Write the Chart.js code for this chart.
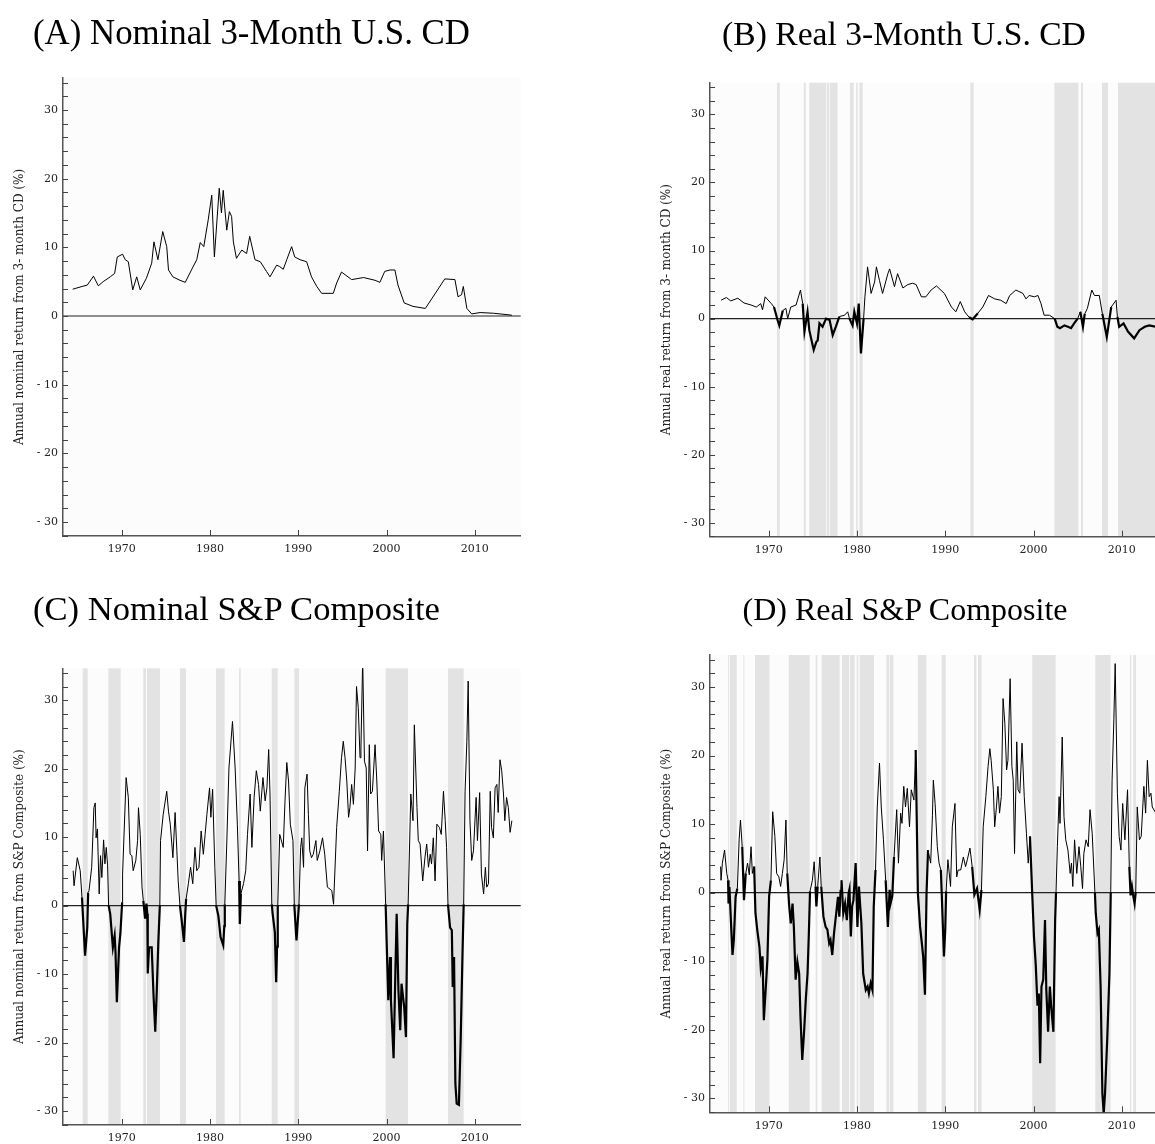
<!DOCTYPE html>
<html>
<head>
<meta charset="utf-8">
<script src="https://cdn.jsdelivr.net/npm/chart.js@4.4.0/dist/chart.umd.min.js"></script>
<style>
  html, body { margin: 0; padding: 0; background: #fff; overflow: hidden; }
  #page { position: relative; width: 1155px; height: 1144px; overflow: hidden; }
  canvas { position: absolute; }
  .title { position: absolute; font-family: "Liberation Serif", "Times New Roman", serif; color: #000; white-space: nowrap; z-index: 2; }
</style>
</head>
<body>
<div id="page">
  <div class="title" style="left:33px; top:16px; font-size:34.8px; line-height:34.8px;">(A) Nominal 3-Month U.S. CD</div>
  <div class="title" style="left:604px; top:17px; width:600px; text-align:center; font-size:33.6px; line-height:33.6px;">(B) Real 3-Month U.S. CD</div>
  <div class="title" style="left:33px; top:591px; font-size:34.6px; line-height:34.6px;">(C) Nominal S&amp;P Composite</div>
  <div class="title" style="left:605px; top:593px; width:600px; text-align:center; font-size:32px; line-height:32px;">(D) Real S&amp;P Composite</div>
  <canvas id="chartA" width="560" height="580" style="left:0px; top:0px;"></canvas>
  <canvas id="chartB" width="560" height="580" style="left:647px; top:0px;"></canvas>
  <canvas id="chartC" width="560" height="580" style="left:0px; top:580px;"></canvas>
  <canvas id="chartD" width="560" height="580" style="left:647px; top:580px;"></canvas>
</div>
<script>
// tick labels
const xTickYears = [1970, 1980, 1990, 2000, 2010];
const yTickValues = [-30, -20, -10, 0, 10, 20, 30];

// (A) nominal 3-month CD
const nomCdYears = [1964.45, 1965.5, 1966.1, 1966.8, 1967.35, 1967.9, 1968.7, 1969.2, 1969.5, 1970.1, 1970.4, 1970.75, 1971.25, 1971.7, 1972.1, 1972.8, 1973.4, 1973.65, 1974.1, 1974.65, 1975.1, 1975.3, 1975.8, 1976.6, 1977.2, 1977.9, 1978.5, 1978.9, 1979.3, 1979.8, 1980.2, 1980.5, 1981.05, 1981.3, 1981.5, 1981.9, 1982.2, 1982.45, 1982.65, 1983.0, 1983.6, 1984.15, 1984.5, 1985.1, 1985.7, 1986.4, 1986.8, 1987.55, 1987.9, 1988.3, 1988.7, 1989.25, 1989.6, 1990.2, 1990.95, 1991.5, 1992.1, 1992.65, 1993.97, 1994.35, 1994.9, 1996.05, 1997.4, 1998.7, 1999.25, 1999.8, 2000.4, 2000.95, 2001.3, 2002.0, 2003.0, 2004.4, 2006.6, 2007.75, 2008.1, 2008.5, 2008.7, 2009.1, 2009.65, 2010.6, 2012.1, 2014.0, 2014.2];
const nomCdValues = [3.9, 4.3, 4.5, 5.8, 4.4, 5.0, 5.7, 6.2, 8.6, 9.0, 8.2, 7.9, 3.8, 5.7, 3.8, 5.5, 7.7, 10.8, 8.2, 12.3, 10.1, 6.7, 5.7, 5.2, 4.9, 6.7, 8.2, 10.7, 10.1, 14.0, 17.6, 8.6, 18.6, 15.0, 18.3, 12.5, 15.2, 14.5, 10.8, 8.4, 9.6, 9.1, 11.6, 8.2, 7.9, 6.5, 5.7, 7.4, 7.2, 6.8, 8.2, 10.1, 8.6, 8.2, 7.9, 5.7, 4.3, 3.3, 3.3, 4.8, 6.4, 5.3, 5.6, 5.2, 4.9, 6.5, 6.7, 6.7, 4.5, 1.9, 1.4, 1.1, 5.4, 5.3, 2.8, 3.1, 4.3, 1.1, 0.3, 0.5, 0.4, 0.15, 0.1];

// (B) real 3-month CD
const realCdYears = [1964.6, 1965.2, 1965.7, 1966.5, 1967.2, 1968.0, 1968.6, 1969.1, 1969.3, 1969.6, 1970.3, 1970.6, 1971.0, 1971.2, 1971.6, 1971.95, 1972.15, 1972.5, 1973.1, 1973.6, 1973.85, 1974.05, 1974.4, 1974.6, 1974.8, 1975.1, 1975.4, 1975.55, 1975.75, 1976.1, 1976.5, 1976.9, 1977.25, 1977.6, 1978.0, 1978.6, 1978.95, 1979.15, 1979.5, 1979.7, 1980.0, 1980.2, 1980.45, 1980.75, 1980.9, 1981.2, 1981.6, 1982.0, 1982.2, 1982.55, 1982.9, 1983.5, 1983.7, 1984.25, 1984.6, 1985.2, 1985.75, 1986.3, 1986.7, 1987.3, 1987.8, 1988.4, 1989.0, 1989.9, 1990.7, 1991.2, 1991.7, 1992.2, 1992.7, 1993.1, 1993.7, 1994.25, 1994.9, 1995.6, 1996.3, 1996.9, 1997.3, 1998.0, 1998.8, 1999.15, 1999.5, 2000.1, 2000.5, 2000.85, 2001.2, 2001.8, 2002.4, 2002.7, 2003.0, 2003.5, 2003.9, 2004.25, 2004.6, 2005.0, 2005.3, 2005.6, 2005.8, 2006.1, 2006.6, 2006.9, 2007.45, 2007.8, 2008.3, 2008.8, 2009.35, 2009.5, 2009.7, 2010.2, 2010.7, 2011.4, 2012.0, 2012.6, 2013.1, 2013.9, 2014.2];
const realCdValues = [2.7, 3.1, 2.6, 3.0, 2.3, 2.0, 1.7, 2.2, 1.3, 3.2, 2.2, 1.7, -0.2, -1.0, 1.2, 1.5, 0.0, 1.7, 2.0, 4.2, 2.2, -1.9, 1.0, -1.7, -2.9, -4.6, -3.4, -3.2, -0.7, -1.2, 0.0, -0.2, -2.4, -1.2, 0.3, 0.5, 1.0, 0.0, -1.0, 1.0, -0.7, 2.2, -5.1, 0.0, 3.2, 7.6, 3.7, 5.4, 7.6, 5.6, 3.7, 6.6, 7.3, 4.7, 6.6, 4.5, 5.0, 5.2, 5.0, 3.2, 3.2, 4.2, 4.8, 3.7, 1.7, 1.0, 2.5, 1.0, 0.2, -0.1, 0.8, 1.7, 3.4, 2.9, 2.7, 2.2, 3.4, 4.2, 3.7, 2.9, 3.4, 3.2, 3.4, 2.2, 0.5, 0.5, 0.0, -1.2, -1.4, -1.0, -1.2, -1.4, -0.7, 0.0, 1.0, -1.2, 0.7, 1.5, 4.2, 3.4, 3.4, 0.7, -2.7, 1.7, 2.7, 0.3, -1.2, -0.7, -1.9, -2.9, -1.7, -1.2, -1.0, -1.2, -1.0];
const realCdBands = [[1970.94, 1971.25], [1973.97, 1974.2], [1974.6, 1976.5], [1976.58, 1976.85], [1976.93, 1977.8], [1979.2, 1979.63], [1979.9, 1980.08], [1980.27, 1980.65], [1992.85, 1993.22], [2002.36, 2005.08], [2005.38, 2005.6], [2007.76, 2008.44], [2009.57, 2014.2]];

// (C) nominal S&P composite
const nomSpYears = [1964.5, 1964.6, 1964.97, 1965.3, 1965.5, 1965.85, 1966.1, 1966.2, 1966.3, 1966.6, 1966.85, 1967.0, 1967.1, 1967.25, 1967.45, 1967.6, 1967.75, 1967.95, 1968.1, 1968.25, 1968.4, 1968.52, 1968.7, 1969.0, 1969.2, 1969.3, 1969.45, 1969.7, 1969.85, 1970.05, 1970.1, 1970.5, 1970.75, 1970.95, 1971.15, 1971.3, 1971.6, 1971.8, 1971.9, 1972.1, 1972.3, 1972.45, 1972.65, 1972.8, 1972.9, 1972.95, 1973.1, 1973.4, 1973.6, 1973.8, 1973.95, 1974.15, 1974.32, 1974.4, 1974.7, 1975.1, 1975.3, 1975.5, 1975.8, 1976.05, 1976.25, 1976.4, 1976.6, 1976.8, 1977.05, 1977.2, 1977.3, 1977.55, 1977.8, 1978.05, 1978.3, 1978.5, 1978.75, 1979.0, 1979.25, 1979.45, 1979.65, 1979.95, 1980.1, 1980.3, 1980.55, 1980.7, 1980.95, 1981.2, 1981.5, 1981.62, 1981.68, 1981.9, 1982.15, 1982.55, 1982.85, 1983.1, 1983.3, 1983.38, 1983.5, 1983.8, 1984.05, 1984.25, 1984.55, 1984.75, 1985.0, 1985.25, 1985.5, 1985.7, 1986.0, 1986.25, 1986.45, 1986.65, 1986.8, 1987.0, 1987.1, 1987.35, 1987.5, 1987.6, 1987.68, 1987.9, 1988.3, 1988.5, 1988.7, 1988.9, 1989.1, 1989.4, 1989.55, 1989.8, 1990.08, 1990.27, 1990.4, 1990.6, 1990.75, 1991.0, 1991.15, 1991.3, 1991.5, 1991.7, 1992.0, 1992.15, 1992.45, 1992.75, 1993.0, 1993.3, 1993.6, 1993.8, 1994.0, 1994.35, 1994.65, 1994.9, 1995.1, 1995.3, 1995.5, 1995.7, 1995.85, 1996.05, 1996.25, 1996.45, 1996.6, 1996.8, 1997.0, 1997.1, 1997.3, 1997.5, 1997.7, 1997.85, 1998.05, 1998.2, 1998.4, 1998.7, 1998.9, 1999.1, 1999.35, 1999.45, 1999.65, 1999.9, 2000.0, 2000.2, 2000.4, 2000.5, 2000.8, 2001.0, 2001.15, 2001.35, 2001.55, 2001.7, 2002.0, 2002.2, 2002.35, 2002.45, 2002.75, 2003.0, 2003.15, 2003.45, 2003.6, 2003.8, 2004.1, 2004.35, 2004.55, 2004.75, 2004.95, 2005.1, 2005.3, 2005.5, 2005.7, 2006.0, 2006.2, 2006.45, 2006.65, 2006.8, 2006.96, 2007.2, 2007.4, 2007.5, 2007.65, 2007.8, 2007.95, 2008.2, 2008.4, 2008.6, 2008.74, 2008.9, 2009.1, 2009.25, 2009.45, 2009.65, 2009.85, 2010.15, 2010.3, 2010.55, 2010.75, 2011.0, 2011.2, 2011.35, 2011.55, 2011.75, 2011.9, 2012.1, 2012.3, 2012.5, 2012.65, 2012.85, 2013.05, 2013.25, 2013.4, 2013.6, 2013.8, 2014.0, 2014.2];
const nomSpValues = [5.1, 2.9, 7.0, 5.1, 1.2, -7.3, -3.2, 1.9, 2.2, 5.6, 14.3, 15.0, 9.9, 11.2, 1.7, 7.3, 4.1, 9.6, 6.1, 8.5, 5.9, 0.0, -1.2, -6.1, -4.4, -6.8, -14.1, -6.1, -4.1, 0.5, 4.6, 18.7, 15.8, 7.5, 7.3, 5.1, 6.6, 9.5, 14.3, 10.4, 2.7, 0.7, -1.9, 0.3, -1.2, -9.9, -6.1, -6.1, -12.9, -18.4, -13.3, -5.3, 0.0, 9.5, 13.3, 16.7, 13.8, 11.9, 7.0, 13.6, 8.0, 3.6, 0.0, -2.2, -5.3, -1.2, 1.0, 3.2, 5.6, 3.2, 8.5, 5.1, 5.6, 10.9, 7.5, 10.4, 13.3, 17.2, 12.9, 17.0, 5.6, 0.0, -1.5, -4.6, -5.8, -3.0, 0.2, 9.0, 20.1, 26.9, 20.1, 11.9, 3.6, -2.7, 1.7, 3.2, 5.1, 10.4, 16.3, 8.5, 15.8, 19.7, 17.7, 13.8, 18.7, 15.3, 17.2, 22.8, 16.3, 0.2, -1.2, -3.9, -11.2, -6.0, 0.0, 10.4, 8.5, 15.3, 20.9, 18.2, 11.9, 9.5, 0.2, -5.1, 0.2, 8.5, 9.9, 5.6, 17.2, 19.2, 13.3, 8.0, 7.0, 7.5, 9.5, 6.6, 8.0, 9.9, 7.5, 2.7, 2.4, 2.2, 0.2, 11.4, 16.7, 21.6, 24.0, 21.6, 18.2, 12.9, 14.3, 17.7, 14.8, 20.1, 32.0, 28.9, 21.6, 23.0, 36.0, 21.1, 20.1, 8.0, 23.5, 16.3, 16.7, 23.5, 18.2, 10.9, 10.4, 6.6, 10.9, 0.2, -4.6, -13.8, -7.5, -13.8, -22.3, -9.9, -1.2, -12.4, -18.2, -11.4, -14.8, -19.2, -2.7, 0.2, 16.3, 12.4, 26.4, 14.3, 9.5, 9.0, 3.6, 7.0, 9.0, 5.6, 7.5, 6.1, 9.9, 3.6, 11.9, 11.4, 10.4, 16.7, 12.4, 8.5, 0.2, -3.2, -3.6, -11.9, -7.5, -26.0, -28.9, -29.1, -19.6, -7.5, 0.2, 16.7, 24.0, 32.8, 12.4, 6.6, 8.0, 15.8, 9.5, 16.5, 4.6, 1.7, 5.6, 2.7, 3.2, 16.7, 11.4, 9.9, 17.2, 17.7, 13.6, 21.3, 19.7, 16.3, 12.4, 15.8, 14.3, 10.7, 12.4];
const nomSpBands = [[1965.58, 1966.15], [1968.49, 1969.88], [1972.45, 1972.75], [1972.87, 1974.34], [1976.6, 1977.28], [1980.68, 1981.66], [1983.29, 1983.48], [1987.0, 1987.67], [1989.56, 1990.09], [1999.9, 2002.43], [2006.96, 2008.74]];

// (D) real S&P composite
const realSpYears = [1964.55, 1964.6, 1964.75, 1965.0, 1965.25, 1965.4, 1965.45, 1965.55, 1965.75, 1965.9, 1966.05, 1966.25, 1966.45, 1966.65, 1966.8, 1967.0, 1967.2, 1967.4, 1967.6, 1967.8, 1968.0, 1968.15, 1968.35, 1968.5, 1968.7, 1968.95, 1969.1, 1969.3, 1969.45, 1969.7, 1969.85, 1970.05, 1970.25, 1970.45, 1970.7, 1970.9, 1971.15, 1971.35, 1971.55, 1971.75, 1971.95, 1972.1, 1972.3, 1972.5, 1972.7, 1972.85, 1973.05, 1973.25, 1973.45, 1973.6, 1973.8, 1974.0, 1974.2, 1974.4, 1974.55, 1974.68, 1974.95, 1975.15, 1975.3, 1975.4, 1975.55, 1975.8, 1975.95, 1976.2, 1976.45, 1976.65, 1976.85, 1977.0, 1977.2, 1977.4, 1977.65, 1977.85, 1978.0, 1978.15, 1978.25, 1978.45, 1978.65, 1978.85, 1979.05, 1979.15, 1979.3, 1979.45, 1979.6, 1979.85, 1980.05, 1980.22, 1980.5, 1980.7, 1981.0, 1981.2, 1981.35, 1981.55, 1981.75, 1981.9, 1982.1, 1982.3, 1982.55, 1982.75, 1983.0, 1983.25, 1983.5, 1983.7, 1983.8, 1984.0, 1984.2, 1984.5, 1984.7, 1984.95, 1985.1, 1985.3, 1985.5, 1985.7, 1985.95, 1986.15, 1986.45, 1986.65, 1986.9, 1987.15, 1987.35, 1987.5, 1987.7, 1987.88, 1988.05, 1988.35, 1988.55, 1988.65, 1988.85, 1989.1, 1989.3, 1989.5, 1989.6, 1989.85, 1990.0, 1990.1, 1990.3, 1990.6, 1990.8, 1991.1, 1991.3, 1991.45, 1991.75, 1992.05, 1992.3, 1992.5, 1992.8, 1993.05, 1993.3, 1993.6, 1993.9, 1994.1, 1994.3, 1994.6, 1994.85, 1995.05, 1995.2, 1995.45, 1995.6, 1995.8, 1995.97, 1996.15, 1996.35, 1996.55, 1996.75, 1996.95, 1997.1, 1997.35, 1997.55, 1997.7, 1997.85, 1998.1, 1998.25, 1998.45, 1998.7, 1998.95, 1999.2, 1999.4, 1999.6, 1999.85, 2000.05, 2000.25, 2000.45, 2000.6, 2000.75, 2000.9, 2001.1, 2001.3, 2001.45, 2001.65, 2001.85, 2002.0, 2002.25, 2002.45, 2002.55, 2002.7, 2002.9, 2003.0, 2003.25, 2003.45, 2003.65, 2003.9, 2004.15, 2004.3, 2004.45, 2004.65, 2004.9, 2005.15, 2005.35, 2005.55, 2005.7, 2005.95, 2006.2, 2006.4, 2006.65, 2006.95, 2007.05, 2007.25, 2007.4, 2007.6, 2007.8, 2007.95, 2008.1, 2008.35, 2008.6, 2008.75, 2008.9, 2009.1, 2009.25, 2009.5, 2009.7, 2009.9, 2010.1, 2010.35, 2010.65, 2010.85, 2011.0, 2011.15, 2011.3, 2011.45, 2011.58, 2011.75, 2012.0, 2012.2, 2012.5, 2012.7, 2012.9, 2013.1, 2013.3, 2013.45, 2013.85, 2014.1];
const realSpValues = [3.8, 1.8, 4.3, 6.2, 2.8, 1.8, -1.6, 0.8, -5.0, -9.1, -6.9, -0.6, 0.6, 7.7, 10.6, 6.7, -1.1, 2.8, 4.3, 2.6, 6.7, 2.8, 3.8, -3.0, -5.4, -7.9, -11.0, -9.3, -18.6, -13.2, -9.8, -0.5, 1.8, 11.8, 8.2, 2.8, 2.3, 0.9, 2.8, 4.8, 10.6, 2.8, -1.6, -4.5, -1.6, -5.0, -12.7, -10.1, -11.8, -18.1, -24.4, -20.5, -15.6, -11.8, -5.9, 0.2, 1.8, 4.5, 0.9, -2.0, 0.9, 5.2, 0.9, -3.5, -5.0, -5.4, -7.4, -6.9, -9.1, -5.9, -3.0, -0.6, -3.5, 0.4, 1.8, -3.0, -1.6, -4.0, -0.1, 0.5, -6.4, -2.0, -1.1, 4.3, -5.0, 0.9, -4.5, -11.8, -14.2, -13.7, -14.7, -13.2, -14.2, -2.0, 3.3, 12.5, 18.9, 12.5, 7.7, 1.8, -5.0, 0.4, -1.6, -0.5, 5.2, 12.1, 4.3, 11.6, 10.1, 15.5, 12.5, 15.2, 9.6, 15.0, 13.5, 20.8, -0.1, -5.0, -7.4, -9.3, -14.9, -0.1, 6.2, 4.3, 11.3, 16.4, 13.0, 6.7, 4.3, 3.3, -0.1, -9.3, -5.4, 0.2, 4.8, 0.9, 9.6, 13.0, 2.3, 3.3, 3.3, 5.2, 3.8, 4.8, 6.5, 3.8, -0.3, 0.6, -2.5, 0.4, 9.6, 14.0, 18.4, 21.0, 19.3, 15.0, 9.6, 12.5, 15.5, 11.6, 14.0, 28.3, 24.7, 17.9, 19.3, 31.2, 18.4, 16.4, 5.7, 22.0, 15.0, 14.5, 21.8, 14.0, 8.6, 4.3, 8.2, -0.1, -6.4, -10.5, -16.5, -14.7, -24.9, -13.7, -12.7, -4.0, -14.2, -20.3, -13.7, -16.6, -20.3, -4.0, 0.1, 6.7, 14.0, 10.1, 22.7, 11.1, 7.7, 6.2, 2.8, 4.3, 0.9, 7.7, 2.8, 6.7, 3.8, 0.6, 5.7, 7.7, 6.7, 12.1, 8.6, 0.1, -3.0, -5.9, -5.4, -13.7, -29.3, -32.2, -29.3, -21.4, -11.8, 0.1, 16.4, 25.2, 33.4, 14.5, 8.2, 6.2, 13.0, 7.7, 15.0, 3.8, -0.4, 0.9, -0.5, -1.6, 0.1, 12.5, 7.7, 8.2, 15.5, 11.6, 19.3, 14.0, 14.5, 12.5, 11.6, 13.0];
const realSpBands = [[1965.4, 1965.5], [1965.6, 1966.38], [1967.13, 1967.24], [1968.45, 1970.08], [1972.27, 1974.64], [1975.32, 1975.51], [1976.0, 1978.04], [1978.3, 1979.1], [1979.2, 1979.74], [1979.97, 1980.15], [1980.3, 1981.93], [1983.33, 1983.67], [1983.74, 1984.12], [1986.9, 1987.86], [1989.59, 1990.05], [1993.26, 1993.52], [1993.71, 1994.12], [1999.86, 2002.5], [2007.0, 2008.73], [2010.92, 2011.07], [2011.3, 2011.6]];

const tickFont = { family: 'DejaVu Serif', size: 11 };
const labelFont = { family: 'DejaVu Serif', size: 12 };

// shading, plot background, zero line and inward tick marks
function makeDecor(bands) {
  return {
    id: 'decor',
    beforeDraw(chart) {
      const { ctx, chartArea: a, scales: { x, y } } = chart;
      ctx.save();
      ctx.fillStyle = '#fcfcfc';
      ctx.fillRect(a.left, a.top, a.width, a.height);
      ctx.fillStyle = '#e3e3e3';
      bands.forEach(b => {
        const x0 = Math.max(a.left, x.getPixelForValue(b[0]));
        const x1 = Math.min(a.right, x.getPixelForValue(b[1]));
        if (x1 > x0) ctx.fillRect(x0, a.top, x1 - x0, a.height);
      });
      const y0 = y.getPixelForValue(0);
      ctx.strokeStyle = '#222';
      ctx.lineWidth = 1.2;
      ctx.beginPath();
      ctx.moveTo(a.left, y0);
      ctx.lineTo(a.right, y0);
      ctx.stroke();
      ctx.restore();
    },
    afterDraw(chart) {
      const { ctx, chartArea: a, scales: { x, y } } = chart;
      ctx.save();
      ctx.strokeStyle = '#444';
      ctx.lineWidth = 1;
      ctx.beginPath();
      for (let v = -32; v <= 34; v += 2) {
        const py = Math.round(y.getPixelForValue(v)) + 0.5;
        ctx.moveTo(a.left, py);
        ctx.lineTo(a.left + 5, py);
      }
      xTickYears.forEach(yr => {
        const px = Math.round(x.getPixelForValue(yr)) + 0.5;
        ctx.moveTo(px, a.bottom);
        ctx.lineTo(px, a.bottom - 6);
      });
      ctx.stroke();
      ctx.restore();
    }
  };
}

function drawPanel(id, years, values, bands, yLabel, canvasTop, areaTop, areaBottom) {
  const points = years.map((yr, i) => ({ x: yr, y: values[i] }));
  new Chart(document.getElementById(id), {
    type: 'line',
    data: {
      datasets: [{
        data: points,
        borderColor: '#000',
        borderWidth: 1,
        pointRadius: 0,
        tension: 0,
        fill: false,
        segment: {
          borderWidth: ctx => (ctx.p0.parsed.y < 0 || ctx.p1.parsed.y < 0) ? 2.2 : 1
        }
      }]
    },
    options: {
      responsive: false,
      animation: false,
      events: [],
      layout: {
        padding: { left: 0, right: 39.3, top: areaTop - canvasTop, bottom: canvasTop + 580 - areaBottom - 30 }
      },
      plugins: { legend: { display: false }, tooltip: { enabled: false } },
      scales: {
        x: {
          type: 'linear',
          min: 1963.35,
          max: 2015.2,
          afterBuildTicks: s => { s.ticks = xTickYears.map(v => ({ value: v })); },
          afterFit: s => { s.height = 30; },
          grid: { display: false, drawTicks: false },
          border: { display: true, color: '#555', width: 1.5 },
          ticks: { font: tickFont, color: '#222', padding: 7, maxRotation: 0, autoSkip: false, callback: v => String(v) }
        },
        y: {
          min: -32.04,
          max: 34.66,
          afterBuildTicks: s => { s.ticks = yTickValues.map(v => ({ value: v })); },
          afterFit: s => { s.width = 63; },
          grid: { display: false, drawTicks: false },
          border: { display: true, color: '#555', width: 1.5 },
          ticks: { font: tickFont, color: '#222', padding: 5, callback: v => v < 0 ? '- ' + Math.abs(v) : String(v) },
          title: { display: true, text: yLabel, font: labelFont, color: '#222', padding: { top: 13, bottom: 0 } }
        }
      }
    },
    plugins: [makeDecor(bands)]
  });
}

drawPanel('chartA', nomCdYears, nomCdValues, [], 'Annual nominal return from 3- month CD (%)', 0, 78, 536);
drawPanel('chartB', realCdYears, realCdValues, realCdBands, 'Annual real return from 3- month CD (%)', 0, 82.7, 536.7);
drawPanel('chartC', nomSpYears, nomSpValues, nomSpBands, 'Annual nominal return from S&P Composite (%)', 580, 668.3, 1125);
drawPanel('chartD', realSpYears, realSpValues, realSpBands, 'Annual real return from S&P Composite (%)', 580, 655, 1112.3);
</script>
</body>
</html>
